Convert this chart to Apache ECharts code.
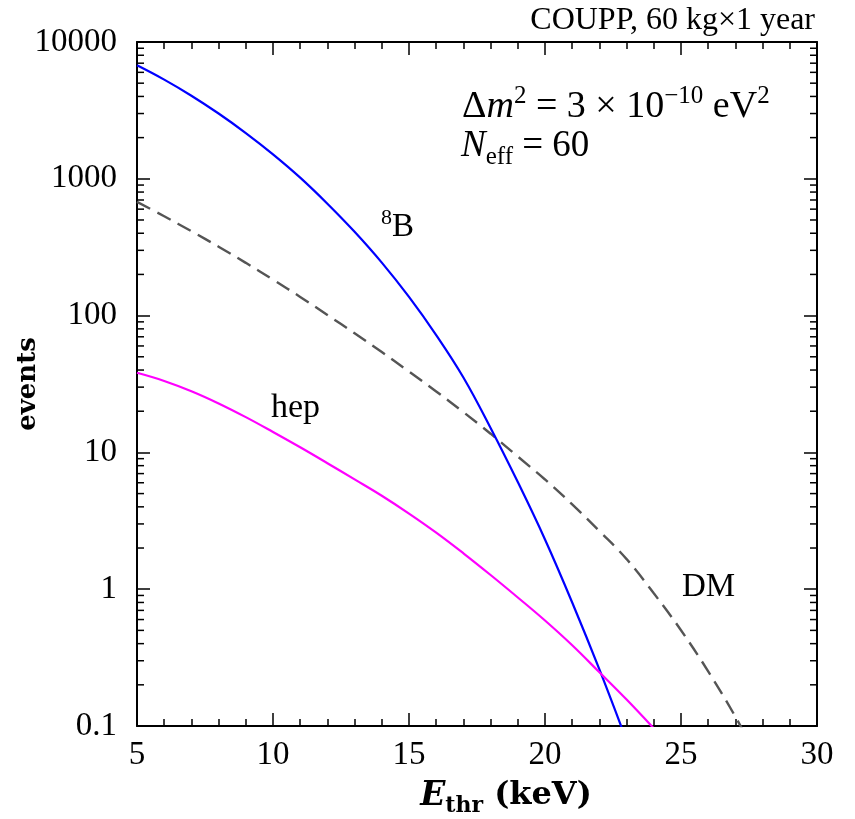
<!DOCTYPE html>
<html>
<head>
<meta charset="utf-8">
<script src="https://cdn.jsdelivr.net/npm/echarts@6.0.0/dist/echarts.min.js"></script>
<style>
html,body{margin:0;padding:0;background:#fff;}
#chart{width:855px;height:819px;}
</style>
</head>
<body>
<div id="chart"></div>
<script>
// ---- data ----
const energyB8 = [5, 6, 7, 8, 9, 10, 11, 12, 13, 14, 15, 16, 17, 18, 19, 20, 21, 22, 23];
const eventsB8 = [6760, 5310, 4050, 3000, 2160, 1510, 1020, 658, 410, 244, 137, 72.1, 35.3, 15.1, 6.07, 2.31, 0.80, 0.259, 0.078];

const energyHep = [5, 6, 7, 8, 9, 10, 11, 12, 13, 14, 15, 16, 17, 18, 19, 20, 21, 22, 23, 24];
const eventsHep = [38.2, 33.3, 28.0, 22.8, 18.1, 14.1, 10.9, 8.34, 6.35, 4.82, 3.57, 2.59, 1.83, 1.27, 0.87, 0.59, 0.389, 0.247, 0.156, 0.096];

const energyDM = [5, 6, 7, 8, 9, 10, 11, 12, 13, 14, 15, 16, 17, 18, 19, 20, 21, 22, 23, 24, 25, 26, 27, 27.5];
const eventsDM = [678, 532, 414, 319, 243, 183, 137, 101, 74.3, 54.1, 39.0, 27.9, 19.7, 13.7, 9.33, 6.34, 4.17, 2.66, 1.66, 0.933, 0.501, 0.251, 0.117, 0.076];

const yTickValues = [0.1, 1, 10, 100, 1000, 10000];
const yTickLabels = ['0.1', '1', '10', '100', '1000', '10000'];
const yMinorTickValues = [];
[0.1, 1, 10, 100, 1000].forEach(d => { for (let k = 2; k <= 9; k++) yMinorTickValues.push(+(d * k).toPrecision(3)); });

const xMin = 5, xMax = 30, xStep = 5;

// ---- chart ----
const FONT = 'Liberation Serif';
const TFONT = 'DejaVu Serif';
const chart = echarts.init(document.getElementById('chart'), null, {renderer: 'canvas'});

const zip = (xs, ys) => xs.map((x, i) => [x, ys[i]]);

const axisCommon = {
  axisLine: {show: true, onZero: false, lineStyle: {color: '#000', width: 2}},
  axisTick: {show: true, inside: true, length: 13, lineStyle: {color: '#000', width: 1.5}},
  splitLine: {show: false}
};

const option = {
  animation: false,
  backgroundColor: '#fff',
  grid: {left: 137, right: 38, top: 42, bottom: 93, containLabel: false, outerBoundsMode: 'none'},
  xAxis: [
    Object.assign({}, axisCommon, {
      type: 'value', min: xMin, max: xMax, interval: xStep, position: 'bottom',
      minorTick: {show: true, splitNumber: 5, length: 7, lineStyle: {color: '#000', width: 1.5}},
      axisLabel: {color: '#000', fontFamily: FONT, fontSize: 33, margin: 13},
      name: '{e|E}{s|thr}{n| (keV)}',
      nameLocation: 'middle', nameGap: 49, nameMoveOverlap: false,
      nameTextStyle: {
        color: '#000', fontFamily: TFONT, fontSize: 32, fontWeight: 'bold',
        padding: [0, 0, 0, 58],
        rich: {
          e: {fontFamily: TFONT, fontSize: 33, fontWeight: 'bold', fontStyle: 'italic', color: '#000', lineHeight: 42},
          s: {fontFamily: TFONT, fontSize: 22, fontWeight: 'bold', color: '#000', verticalAlign: 'bottom', lineHeight: 25},
          n: {fontFamily: TFONT, fontSize: 32, fontWeight: 'bold', color: '#000', lineHeight: 42}
        }
      }
    }),
    Object.assign({}, axisCommon, {
      type: 'value', min: xMin, max: xMax, interval: xStep, position: 'top',
      minorTick: {show: true, splitNumber: 5, length: 7, lineStyle: {color: '#000', width: 1.5}},
      axisLabel: {show: false}
    })
  ],
  yAxis: [
    Object.assign({}, axisCommon, {
      type: 'log', logBase: 10, min: 0.1, max: 10000, position: 'left',
      axisLabel: {
        color: '#000', fontFamily: FONT, fontSize: 33, margin: 20,
        formatter: v => {
          const i = yTickValues.findIndex(t => Math.abs(Math.log10(t) - Math.log10(v)) < 1e-6);
          return i >= 0 ? yTickLabels[i] : '';
        }
      },
      name: 'events', nameLocation: 'middle', nameRotate: 90, nameGap: 96, nameMoveOverlap: false,
      nameTextStyle: {color: '#000', fontFamily: TFONT, fontSize: 26, fontWeight: 'bold'}
    }),
    Object.assign({}, axisCommon, {
      type: 'log', logBase: 10, min: 0.1, max: 10000, position: 'right',
      axisLabel: {show: false}
    })
  ],
  series: [
    {
      name: 'DM', type: 'line', xAxisIndex: 0, yAxisIndex: 0,
      data: zip(energyDM, eventsDM), showSymbol: false, smooth: 0.4, clip: true,
      lineStyle: {color: '#555555', width: 2.4, type: [15, 8]}
    },
    {
      name: '8B', type: 'line', xAxisIndex: 0, yAxisIndex: 0,
      data: zip(energyB8, eventsB8), showSymbol: false, smooth: 0.4, clip: true,
      lineStyle: {color: '#0000ff', width: 2.2}
    },
    {
      name: 'hep', type: 'line', xAxisIndex: 0, yAxisIndex: 0,
      data: zip(energyHep, eventsHep), showSymbol: false, smooth: 0.4, clip: true,
      lineStyle: {color: '#ff00ff', width: 2.2}
    },
    {
      name: 'yMinorTicks', type: 'custom', xAxisIndex: 0, yAxisIndex: 0, silent: true, clip: false,
      data: yMinorTickValues.map(v => [xMin, v]),
      encode: {x: 0, y: 1},
      renderItem: (params, api) => {
        const y = api.coord([xMin, api.value(1)])[1];
        const cs = params.coordSys;
        return {
          type: 'group',
          children: [
            {type: 'line', shape: {x1: cs.x, y1: y, x2: cs.x + 7, y2: y}, style: {stroke: '#000', lineWidth: 1.5}},
            {type: 'line', shape: {x1: cs.x + cs.width, y1: y, x2: cs.x + cs.width - 7, y2: y}, style: {stroke: '#000', lineWidth: 1.5}}
          ]
        };
      }
    }
  ],
  graphic: [
    {
      type: 'text', x: 815, y: 21,
      style: {text: 'COUPP, 60 kg×1 year', font: '32px "Liberation Serif"', fill: '#000', align: 'right', verticalAlign: 'middle'}
    },
    {
      type: 'text', left: 462, top: 84,
      style: {
        text: '{n|Δ}{i|m}{p|2}{n| = 3 × 10}{p|−10}{n| eV}{p|2}',
        rich: {
          n: {fontFamily: FONT, fontSize: 38, color: '#000', lineHeight: 46},
          i: {fontFamily: FONT, fontSize: 38, fontStyle: 'italic', color: '#000', lineHeight: 46},
          p: {fontFamily: FONT, fontSize: 25, color: '#000', verticalAlign: 'top', lineHeight: 26}
        }
      }
    },
    {
      type: 'text', left: 461, top: 128,
      style: {
        text: '{i|N}{s|eff}{n| = 60}',
        rich: {
          n: {fontFamily: FONT, fontSize: 37, color: '#000', lineHeight: 46},
          i: {fontFamily: FONT, fontSize: 37, fontStyle: 'italic', color: '#000', lineHeight: 46},
          s: {fontFamily: FONT, fontSize: 25, color: '#000', verticalAlign: 'bottom', lineHeight: 28}
        }
      }
    },
    {
      type: 'text', left: 381, top: 207,
      style: {
        text: '{p|8}{n|B}',
        rich: {
          n: {fontFamily: FONT, fontSize: 33, color: '#000', lineHeight: 40},
          p: {fontFamily: FONT, fontSize: 22, color: '#000', verticalAlign: 'top', lineHeight: 23}
        }
      }
    },
    {
      type: 'text', left: 271, top: 391,
      style: {text: 'hep', font: '34px "Liberation Serif"', fill: '#000'}
    },
    {
      type: 'text', left: 682, top: 571,
      style: {text: 'DM', font: '33px "Liberation Serif"', fill: '#000'}
    }
  ]
};

chart.setOption(option);
</script>
</body>
</html>
